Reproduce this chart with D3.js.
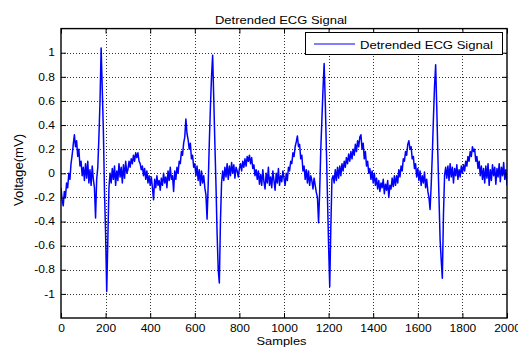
<!DOCTYPE html>
<html><head><meta charset="utf-8">
<script src="https://cdn.jsdelivr.net/npm/d3@7/dist/d3.min.js"></script>
<style>
body{margin:0;background:#fff}
svg text{font-family:"Liberation Sans",Arial,Helvetica,sans-serif;fill:#000}
</style>
</head><body>
<svg id="chart" width="518" height="347"></svg>
<script>
// ---------------- data ----------------
const sampleStep = 5; // one reading every 5 samples, 0..2000
const voltage = [
 -0.12,-0.22,-0.27,-0.15,-0.2,-0.08,-0.12,0.0,-0.05,0.08,0.15,0.24,0.32,0.22,0.27,0.14,0.2,0.06,0.1,-0.02,
 0.05,-0.06,0.08,-0.04,0.1,-0.08,0.03,-0.1,0.06,-0.05,-0.12,-0.37,-0.05,0.05,0.3,0.6,1.04,0.7,0.35,-0.15,
 -0.5,-0.98,-0.55,-0.12,0.0,-0.08,0.04,-0.05,0.06,-0.1,0.02,-0.06,0.08,-0.03,0.05,-0.08,0.07,-0.04,0.1,0.0,
 0.03,0.1,0.05,0.12,0.08,0.15,0.1,0.17,0.13,0.17,0.1,0.08,0.03,0.06,-0.02,0.04,-0.05,0.02,-0.08,-0.02,
 -0.1,-0.03,-0.12,-0.22,-0.05,-0.12,-0.02,-0.1,-0.06,-0.14,-0.04,-0.1,0.0,-0.08,-0.03,-0.12,0.02,-0.06,0.05,-0.05,
 -0.02,-0.15,0.02,-0.05,0.05,0.0,0.1,0.08,0.18,0.15,0.25,0.3,0.45,0.33,0.28,0.2,0.25,0.12,0.15,0.05,
 0.08,-0.02,0.06,-0.06,0.03,-0.1,0.02,-0.08,-0.02,-0.12,-0.18,-0.38,-0.1,0.25,0.55,0.8,0.98,0.62,0.25,-0.1,
 -0.5,-0.8,-0.91,-0.4,-0.08,0.02,-0.06,0.05,-0.03,0.08,-0.05,0.06,-0.02,0.09,0.0,0.07,-0.04,0.05,0.02,-0.03,
 0.04,0.08,0.02,0.1,0.05,0.12,0.06,0.14,0.1,0.15,0.08,0.13,0.04,0.07,-0.02,0.03,-0.05,0.02,-0.09,-0.01,
 -0.1,0.03,-0.07,-0.13,0.0,-0.08,0.05,-0.1,-0.03,-0.12,0.02,-0.06,-0.14,0.0,-0.08,0.04,-0.1,-0.02,-0.07,0.02,
 -0.04,-0.1,0.0,-0.06,0.05,0.02,0.1,0.08,0.17,0.14,0.22,0.26,0.31,0.22,0.24,0.12,0.15,0.02,0.06,-0.05,
 0.03,-0.08,0.02,-0.1,-0.02,-0.06,-0.13,-0.04,-0.1,-0.16,-0.2,-0.41,-0.15,0.2,0.45,0.7,0.91,0.6,0.2,-0.2,
 -0.6,-0.94,-0.45,-0.05,-0.02,-0.08,0.03,-0.06,0.05,-0.04,0.06,-0.02,0.08,0.02,0.1,0.05,0.13,0.08,0.16,0.1,
 0.18,0.12,0.2,0.15,0.24,0.18,0.27,0.22,0.3,0.32,0.2,0.25,0.12,0.18,0.06,0.1,0.0,0.04,-0.05,0.02,
 -0.08,0.0,-0.1,-0.04,-0.13,-0.06,-0.15,-0.08,-0.12,-0.05,-0.17,-0.09,-0.14,-0.06,-0.2,-0.1,-0.13,-0.04,-0.11,-0.02,
 -0.1,-0.02,-0.08,0.03,-0.03,0.06,0.02,0.12,0.1,0.18,0.15,0.24,0.27,0.2,0.22,0.12,0.14,0.04,0.08,-0.03,
 0.04,-0.06,0.02,-0.1,-0.02,-0.08,0.01,-0.12,-0.05,-0.15,-0.2,-0.3,-0.1,0.15,0.45,0.72,0.9,0.55,0.15,-0.2,
 -0.55,-0.72,-0.87,-0.35,-0.02,0.05,-0.04,0.06,-0.06,0.08,-0.03,0.05,-0.08,0.04,-0.02,0.07,-0.05,0.03,-0.03,0.06,
 0.0,0.07,0.02,0.1,0.06,0.14,0.1,0.18,0.14,0.22,0.18,0.2,0.1,0.14,0.04,0.1,-0.02,0.06,-0.05,0.04,
 -0.08,0.06,-0.04,0.08,-0.1,0.03,-0.06,0.07,-0.02,0.05,-0.09,0.04,-0.03,0.08,-0.07,0.05,-0.02,0.09,-0.05,0.03,
 -0.1
];
const xTicks = [0,200,400,600,800,1000,1200,1400,1600,1800,2000];
const xTickLabels = ["0","200","400","600","800","1000","1200","1400","1600","1800","2000"];
const yTicks = [-1,-0.8,-0.6,-0.4,-0.2,0,0.2,0.4,0.6,0.8,1];
const yTickLabels = ["-1","-0.8","-0.6","-0.4","-0.2","0","0.2","0.4","0.6","0.8","1"];
const chartTitle = "Detrended ECG Signal";
const xLabel = "Samples";
const yLabel = "Voltage(mV)";
const seriesName = "Detrended ECG Signal";

// ---------------- drawing ----------------
const svg = d3.select("#chart");
const L = 61, R = 507, T = 28.6, B = 318;
const x = d3.scaleLinear().domain([0, 2000]).range([L, R]);
const y = d3.scaleLinear().domain([-1.2, 1.2]).range([B, T]);
const SX = 1.2; // horizontal text stretch seen in the reference

svg.append("rect").attr("x",0).attr("y",0).attr("width",518).attr("height",347).attr("fill","#fff");

// grid
const grid = svg.append("g").attr("stroke","#000").attr("stroke-width",0.8).attr("stroke-dasharray","1,2").attr("shape-rendering","crispEdges");
grid.selectAll("line.v").data(xTicks.filter(d=>d>0&&d<2000)).enter().append("line")
  .attr("x1",d=>Math.round(x(d))+0.5).attr("x2",d=>Math.round(x(d))+0.5).attr("y1",T).attr("y2",B);
grid.selectAll("line.h").data(yTicks).enter().append("line")
  .attr("y1",d=>Math.round(y(d))+0.5).attr("y2",d=>Math.round(y(d))+0.5).attr("x1",L).attr("x2",R);

// signal
const data = voltage.map((v,i)=>({s:i*sampleStep, v}));
svg.append("defs").append("clipPath").attr("id","clip").append("rect")
  .attr("x",L).attr("y",T).attr("width",R-L).attr("height",B-T);
svg.append("path").datum(data)
  .attr("clip-path","url(#clip)")
  .attr("fill","none").attr("stroke","#0000ff").attr("stroke-width",1.5)
  .attr("stroke-linejoin","round")
  .attr("d", d3.line().x(d=>x(d.s)).y(d=>y(d.v)));

// axes (inward ticks on all sides)
const fmtX = d=>xTickLabels[xTicks.indexOf(d)];
const fmtY = d=>yTickLabels[yTicks.indexOf(d)];
const gx = svg.append("g").attr("transform",`translate(0,${B})`)
  .call(d3.axisBottom(x).tickValues(xTicks).tickSize(-5).tickFormat(fmtX));
gx.selectAll("text").attr("y",6.5).attr("dy","0.71em").attr("font-size",10).attr("transform",`scale(${SX},1)`);
const gxt = svg.append("g").attr("transform",`translate(0,${T})`)
  .call(d3.axisTop(x).tickValues(xTicks).tickSize(-5).tickFormat(""));
const gy = svg.append("g").attr("transform",`translate(${L},0)`)
  .call(d3.axisLeft(y).tickValues(yTicks).tickSize(-5).tickFormat(fmtY));
gy.selectAll("text").attr("x",-6/SX).attr("font-size",10).attr("transform",`scale(${SX},1)`);
const gyr = svg.append("g").attr("transform",`translate(${R},0)`)
  .call(d3.axisRight(y).tickValues(yTicks).tickSize(-5).tickFormat(""));
[gx,gxt,gy,gyr].forEach(g=>{
  g.select(".domain").remove();
  g.selectAll("line").attr("stroke","#000").attr("stroke-width",1);
  g.selectAll("text").attr("font-family","Liberation Sans, Arial, sans-serif").attr("fill","#000");
});

// box
svg.append("rect").attr("x",L).attr("y",T).attr("width",R-L).attr("height",B-T)
  .attr("fill","none").attr("stroke","#000").attr("stroke-width",1.4);

// title and labels
svg.append("text").attr("x",281).attr("y",24).attr("text-anchor","middle")
  .attr("font-size",11).attr("textLength",132).attr("lengthAdjust","spacingAndGlyphs").text(chartTitle);
svg.append("text").attr("x",281.5).attr("y",345).attr("text-anchor","middle")
  .attr("font-size",11).attr("textLength",50).attr("lengthAdjust","spacingAndGlyphs").text(xLabel);
svg.append("text").attr("transform","translate(23.3,170) rotate(-90)").attr("text-anchor","middle")
  .attr("font-size",12).attr("textLength",72).attr("lengthAdjust","spacingAndGlyphs").text(yLabel);

// legend
const lg = svg.append("g");
lg.append("rect").attr("x",305.5).attr("y",32.5).attr("width",197).attr("height",22)
  .attr("fill","#fff").attr("stroke","#000").attr("stroke-width",1);
lg.append("line").attr("x1",314).attr("x2",355).attr("y1",44).attr("y2",44)
  .attr("stroke","#0000ff").attr("stroke-width",1);
lg.append("text").attr("x",360).attr("y",48.5).attr("font-size",10.5)
  .attr("textLength",133).attr("lengthAdjust","spacingAndGlyphs").text(seriesName);
</script>
</body></html>
